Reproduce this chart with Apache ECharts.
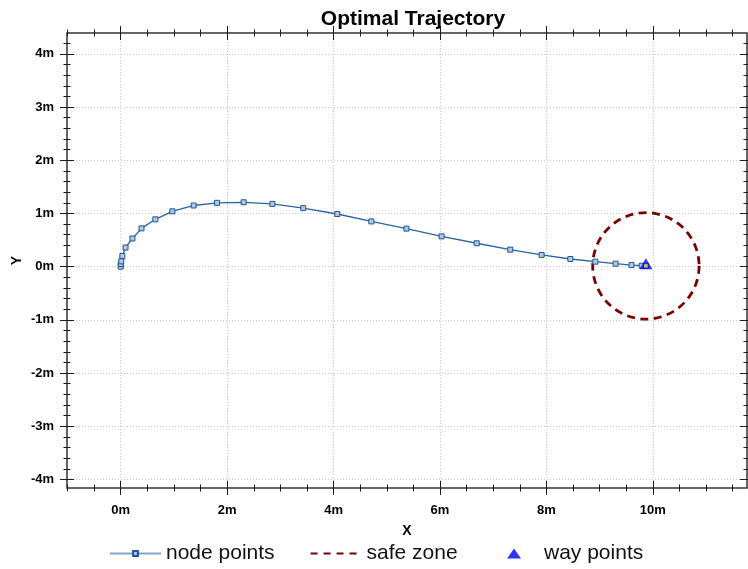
<!DOCTYPE html>
<html>
<head>
<meta charset="utf-8">
<title>Optimal Trajectory</title>
<script src="https://cdn.jsdelivr.net/npm/echarts@6/dist/echarts.min.js"></script>
<style>
  html, body { margin: 0; padding: 0; background: #ffffff; }
  #chart { width: 748px; height: 569px; }
</style>
</head>
<body>
<div id="chart"></div>
<script>
// Trajectory node points (metres)
const nodeX = [0.00, 0.00, 0.01, 0.03, 0.09, 0.22, 0.39, 0.65, 0.97, 1.37, 1.81, 2.31, 2.85, 3.43,
               4.07, 4.71, 5.37, 6.03, 6.69, 7.32, 7.91, 8.45, 8.92, 9.30, 9.60, 9.79, 9.87];
const nodeY = [0.00, 0.05, 0.10, 0.20, 0.36, 0.53, 0.72, 0.89, 1.04, 1.15, 1.20, 1.21, 1.18, 1.10,
               0.99, 0.85, 0.715, 0.57, 0.44, 0.32, 0.22, 0.144, 0.094, 0.056, 0.03, 0.018, 0.015];

// Way point and the safe zone around it
const wayX = [9.87];
const wayY = [0.015];
const safeX = [9.87];
const safeY = [0.015];
const safeR = [1.0];

// Axis extents and tick positions
const xRange = [-1.01, 11.77];
const yRange = [-4.16, 4.392];
const xMajor = [0, 2, 4, 6, 8, 10];
const yMajor = [-4, -3, -2, -1, 0, 1, 2, 3, 4];
const xMinorStep = 0.5;
const yMinorStep = 0.2;

const FONT = '"Liberation Sans", Arial, Helvetica, sans-serif';

function stepValues(lo, hi, step) {
  const out = [];
  for (let k = Math.ceil(lo / step - 1e-9); k * step <= hi + 1e-9; k++) {
    out.push(+(k * step).toFixed(6));
  }
  return out;
}
const xMinor = stepValues(xRange[0], xRange[1], xMinorStep);
const yMinor = stepValues(yRange[0], yRange[1], yMinorStep);

// Ticks that straddle the frame: the axis is pulled inward by half the tick length
function tickAxis(dim, pos, values, len, extra) {
  const range = dim === 'x' ? xRange : yRange;
  return Object.assign({
    type: 'value',
    position: pos,
    min: range[0],
    max: range[1],
    offset: -len / 2,
    axisLine: { show: false, onZero: false },
    axisTick: { show: true, inside: false, length: len, customValues: values,
                lineStyle: { color: '#1a1a1a', width: 1 } },
    axisLabel: { show: false },
    splitLine: { show: false },
    minorTick: { show: false },
    minorSplitLine: { show: false },
    axisPointer: { show: false }
  }, extra || {});
}

const MAJOR = 14, MINOR = 7;
const gridLine = { show: true, lineStyle: { color: '#c8c8c8', width: 1, type: [1, 2] } };
const tickLabel = (values, margin, padding) => ({
  show: true, customValues: values, margin: margin, padding: padding,
  formatter: v => v + 'm',
  color: '#000', fontSize: 13, fontWeight: 'bold', fontFamily: FONT
});
const nameText = { color: '#000', fontSize: 14, fontWeight: 'bold', fontFamily: FONT };

const xAxes = [
  tickAxis('x', 'bottom', xMajor, MAJOR, {
    axisLabel: tickLabel(xMajor, 23, 0),
    splitLine: gridLine,
    name: 'X', nameLocation: 'middle', nameGap: 43, nameMoveOverlap: false, nameTextStyle: nameText
  }),
  tickAxis('x', 'bottom', xMinor, MINOR),
  tickAxis('x', 'top', xMajor, MAJOR),
  tickAxis('x', 'top', xMinor, MINOR)
];
const yAxes = [
  tickAxis('y', 'left', yMajor, MAJOR, {
    axisLabel: tickLabel(yMajor, 20, [3, 0, 0, 0]),
    splitLine: gridLine,
    name: 'Y', nameLocation: 'middle', nameGap: 50, nameRotate: 90, nameMoveOverlap: false,
    nameTextStyle: nameText
  }),
  tickAxis('y', 'left', yMinor, MINOR),
  tickAxis('y', 'right', yMajor, MAJOR),
  tickAxis('y', 'right', yMinor, MINOR)
];

const SAFE_COLOR = '#780000';

const option = {
  animation: false,
  backgroundColor: '#ffffff',
  title: {
    text: 'Optimal Trajectory',
    left: 408, top: 4, textAlign: 'center',
    textStyle: { color: '#000', fontSize: 21, fontWeight: 'bold', fontFamily: FONT }
  },
  grid: {
    left: 67, top: 33, right: 1, bottom: 81,
    show: true, borderColor: '#333333', borderWidth: 1.5, backgroundColor: 'transparent',
    containLabel: false, outerBoundsMode: 'none'
  },
  legend: [
    {
      left: 109, top: 543, padding: 0,
      itemWidth: 51, itemHeight: 6, itemGap: 35,
      textStyle: { color: '#111', fontSize: 21, fontFamily: FONT },
      data: [
        { name: 'node points', lineStyle: { color: '#80a6d0', width: 2 } },
        { name: 'safe zone', itemStyle: { opacity: 0 } }
      ]
    },
    {
      left: 507, top: 543, padding: 0,
      itemWidth: 14, itemHeight: 10,
      textStyle: { color: '#111', fontSize: 21, fontFamily: FONT, padding: [0, 0, 0, 18] },
      data: ['way points']
    }
  ],
  xAxis: xAxes,
  yAxis: yAxes,
  series: [
    {
      // legend swatch for the dashed safe-zone outline
      name: 'safe zone', type: 'line', data: [], symbol: 'none',
      itemStyle: { color: SAFE_COLOR },
      lineStyle: { color: SAFE_COLOR, width: 2.5, type: [7, 6] }
    },
    {
      name: 'safe zone', type: 'custom', xAxisIndex: 0, yAxisIndex: 0, z: 2,
      data: safeX.map((x, i) => [x, safeY[i], safeR[i]]),
      encode: { x: 0, y: 1 },
      renderItem: (params, api) => {
        const c = api.coord([api.value(0), api.value(1)]);
        const s = api.size([api.value(2), api.value(2)]);
        return {
          type: 'circle',
          shape: { cx: c[0], cy: c[1], r: s[0] },
          style: { fill: null, stroke: SAFE_COLOR, lineWidth: 2.8, lineDash: [8, 5.5] }
        };
      }
    },
    {
      name: 'node points', type: 'line', xAxisIndex: 0, yAxisIndex: 0, z: 3,
      data: nodeX.map((x, i) => [x, nodeY[i]]),
      symbol: 'rect', symbolSize: 5, showSymbol: true,
      lineStyle: { color: '#2a64a0', width: 1.3 },
      itemStyle: { color: '#b3c8e0', borderColor: '#1f5596', borderWidth: 1 }
    },
    {
      name: 'way points', type: 'scatter', xAxisIndex: 0, yAxisIndex: 0, z: 5,
      data: wayX.map((x, i) => [x, wayY[i]]),
      symbol: 'triangle', symbolSize: [13, 11], symbolOffset: [0, -2],
      itemStyle: { color: '#0000ff' }
    },
    {
      name: 'way points', type: 'scatter', xAxisIndex: 0, yAxisIndex: 0, z: 6,
      data: wayX.map((x, i) => [x, wayY[i]]),
      symbol: 'circle', symbolSize: 4,
      itemStyle: { color: '#f2f200', borderColor: '#9dbb3a', borderWidth: 0.5 }
    }
  ]
};

const chart = echarts.init(document.getElementById('chart'), null, { renderer: 'canvas' });
chart.setOption(option);
</script>
</body>
</html>
